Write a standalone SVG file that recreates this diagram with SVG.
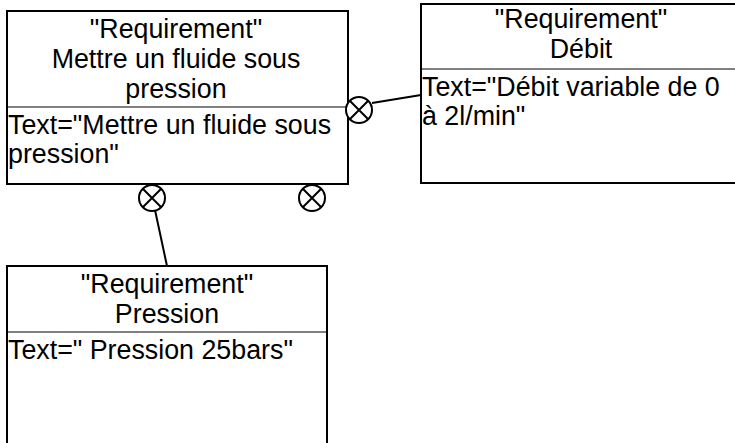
<svg xmlns="http://www.w3.org/2000/svg" width="735" height="443" viewBox="0 0 735 443">
<style>
.box{fill:#fff;stroke:#000;stroke-width:2}
.sep{stroke:#808080;stroke-width:2}
text{font-family:"Liberation Sans",Arial,sans-serif;font-size:26.8px;fill:#000}
.c{text-anchor:middle}
.con{stroke:#000;stroke-width:2;fill:none}
.x{stroke:#000;stroke-width:2;fill:#fff}
</style>
<defs>
<g id="cross"><circle class="x" cx="0" cy="0" r="13"/><path class="con" d="M-9.2,-9.2L9.2,9.2M9.2,-9.2L-9.2,9.2"/></g>
</defs>
<g id="connectors">
<line class="con" x1="372" y1="103" x2="421" y2="95"/>
<line class="con" x1="155" y1="210" x2="167" y2="266"/>
</g>
<g id="req-mettre">
<rect class="box" x="7" y="11" width="341" height="173"/>
<line class="sep" x1="8" y1="107" x2="347" y2="107"/>
<text class="c" x="176" y="38">"Requirement"</text>
<text class="c" x="176" y="68">Mettre un fluide sous</text>
<text class="c" x="176" y="98">pression</text>
<text x="8" y="134">Text="Mettre un fluide sous</text>
<text x="8" y="163">pression"</text>
</g>
<g id="req-debit">
<rect class="box" x="421" y="4" width="320" height="179"/>
<line class="sep" x1="422" y1="69" x2="740" y2="69"/>
<text class="c" x="581" y="28">"Requirement"</text>
<text class="c" x="581" y="58">Débit</text>
<text x="422" y="96">Text="Débit variable de 0</text>
<text x="422" y="125">à 2l/min"</text>
</g>
<g id="req-pression">
<rect class="box" x="7" y="266" width="320" height="190"/>
<line class="sep" x1="8" y1="332" x2="326" y2="332"/>
<text class="c" x="167" y="293">"Requirement"</text>
<text class="c" x="167" y="323">Pression</text>
<text x="8" y="359">Text=" Pression 25bars"</text>
</g>
<g id="ports">
<use href="#cross" x="152" y="198"/>
<use href="#cross" x="312" y="198"/>
<use href="#cross" x="359" y="110"/>
</g>
</svg>
